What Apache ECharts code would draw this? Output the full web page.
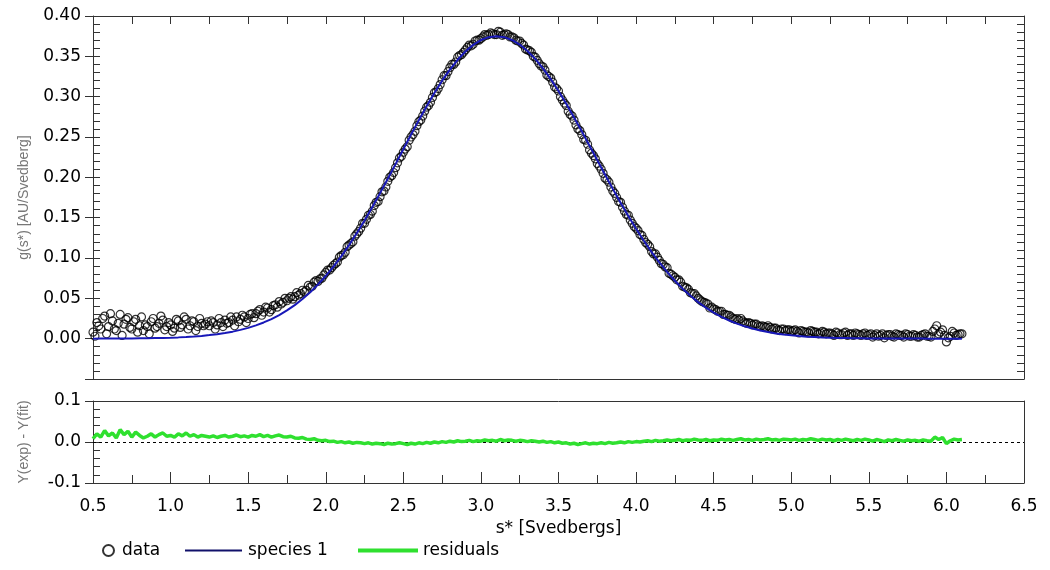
<!DOCTYPE html>
<html>
<head>
<meta charset="utf-8">
<script src="https://cdn.jsdelivr.net/npm/echarts@6/dist/echarts.min.js"></script>
<style>
html,body{margin:0;padding:0;background:#fff;}
#chart{width:1050px;height:570px;}
</style>
</head>
<body>
<div id="chart"></div>
<script>
// sampling grids (s* in Svedbergs)
const dataStart = 0.5, dataStep = 0.025;
const dataStartB = 0.5125;
const fitStart = 0.5, fitStep = 0.05;

// measured g(s*) data points (scan A)
const gData = [
0.008,0.020,0.012,0.028,0.015,0.022,0.010,0.030,0.018,0.026,
0.012,0.024,0.016,0.010,0.015,0.021,0.013,0.019,0.023,0.015,
0.017,0.013,0.022,0.017,0.024,0.016,0.021,0.015,0.019,0.018,
0.016,0.020,0.017,0.020,0.023,0.020,0.023,0.027,0.024,0.027,
0.025,0.031,0.031,0.036,0.033,0.038,0.036,0.042,0.046,0.045,
0.047,0.052,0.052,0.054,0.060,0.060,0.064,0.070,0.071,0.075,
0.082,0.085,0.091,0.095,0.103,0.107,0.116,0.120,0.130,0.137,
0.143,0.153,0.158,0.169,0.176,0.183,0.195,0.202,0.212,0.224,
0.231,0.238,0.250,0.257,0.269,0.276,0.287,0.293,0.305,0.310,
0.321,0.326,0.336,0.340,0.349,0.352,0.358,0.364,0.365,0.370,
0.372,0.377,0.377,0.378,0.377,0.380,0.377,0.377,0.374,0.370,
0.369,0.364,0.358,0.355,0.349,0.341,0.337,0.327,0.323,0.312,
0.307,0.296,0.289,0.278,0.271,0.260,0.253,0.246,0.234,0.227,
0.217,0.210,0.199,0.194,0.183,0.175,0.169,0.158,0.153,0.143,
0.137,0.129,0.123,0.117,0.108,0.105,0.097,0.092,0.088,0.080,
0.076,0.073,0.065,0.063,0.057,0.056,0.050,0.046,0.044,0.038,
0.037,0.034,0.034,0.030,0.029,0.025,0.025,0.025,0.020,0.020,
0.017,0.018,0.015,0.015,0.016,0.012,0.013,0.010,0.012,0.011,
0.009,0.011,0.007,0.009,0.008,0.010,0.008,0.006,0.009,0.006,
0.007,0.004,0.007,0.005,0.008,0.006,0.004,0.006,0.004,0.007,
0.005,0.002,0.006,0.004,0.001,0.005,0.003,0.006,0.004,0.002,
0.005,0.003,0.004,0.002,0.005,0.003,0.002,0.012,0.006,0.011,
-0.004,0.003,0.007,0.005,0.006
];

// measured g(s*) data points (scan B, interleaved)
const gDataB = [
0.003,0.016,0.025,0.006,0.031,0.012,0.019,0.004,0.024,0.014,
0.021,0.008,0.027,0.017,0.006,0.025,0.015,0.028,0.011,0.020,
0.009,0.024,0.014,0.027,0.012,0.022,0.010,0.025,0.016,0.021,
0.022,0.012,0.025,0.015,0.019,0.027,0.016,0.021,0.029,0.020,
0.030,0.026,0.034,0.029,0.039,0.033,0.041,0.039,0.043,0.050,
0.050,0.049,0.057,0.056,0.058,0.066,0.065,0.072,0.074,0.079,
0.085,0.088,0.093,0.101,0.104,0.114,0.118,0.127,0.133,0.143,
0.148,0.154,0.165,0.170,0.182,0.188,0.200,0.206,0.218,0.226,
0.235,0.246,0.253,0.264,0.271,0.282,0.289,0.299,0.306,0.315,
0.326,0.331,0.340,0.343,0.351,0.355,0.361,0.363,0.369,0.370,
0.374,0.376,0.379,0.377,0.381,0.376,0.378,0.374,0.373,0.369,
0.366,0.359,0.357,0.350,0.345,0.338,0.333,0.325,0.318,0.310,
0.300,0.292,0.282,0.276,0.265,0.258,0.247,0.241,0.230,0.223,
0.214,0.205,0.197,0.188,0.180,0.170,0.163,0.154,0.147,0.139,
0.134,0.128,0.119,0.114,0.105,0.101,0.093,0.089,0.081,0.078,
0.073,0.070,0.064,0.061,0.056,0.053,0.048,0.045,0.043,0.039,
0.036,0.034,0.030,0.029,0.027,0.024,0.023,0.022,0.019,0.019,
0.018,0.016,0.016,0.014,0.014,0.013,0.011,0.012,0.010,0.011,
0.010,0.009,0.010,0.008,0.007,0.009,0.008,0.007,0.008,0.007,
0.006,0.008,0.005,0.007,0.004,0.006,0.007,0.005,0.006,0.004,
0.006,0.004,0.003,0.006,0.004,0.005,0.002,0.005,0.004,0.006,
0.003,0.005,0.002,0.004,0.006,0.003,0.009,0.016,0.008,0.004,
0.001,0.009,0.004,0.006
];

// fitted species 1 curve
const species1 = [
0.0000,0.0001,0.0001,0.0001,0.0002,0.0003,0.0004,0.0005,0.0007,0.0009,
0.0012,0.0016,0.0021,0.0027,0.0034,0.0044,0.0055,0.0070,0.0087,0.0109,
0.0134,0.0165,0.0201,0.0243,0.0293,0.0350,0.0416,0.0491,0.0576,0.0671,
0.0777,0.0894,0.1021,0.1160,0.1308,0.1465,0.1631,0.1804,0.1983,0.2164,
0.2348,0.2530,0.2709,0.2882,0.3045,0.3198,0.3336,0.3457,0.3560,0.3642,
0.3702,0.3738,0.3750,0.3738,0.3703,0.3646,0.3567,0.3468,0.3351,0.3217,
0.3070,0.2912,0.2743,0.2570,0.2391,0.2211,0.2033,0.1857,0.1685,0.1520,
0.1362,0.1214,0.1074,0.0945,0.0827,0.0718,0.0620,0.0532,0.0453,0.0384,
0.0324,0.0271,0.0225,0.0186,0.0153,0.0125,0.0101,0.0082,0.0065,0.0052,
0.0041,0.0032,0.0025,0.0020,0.0015,0.0012,0.0009,0.0007,0.0005,0.0004,
0.0003,0.0002,0.0002,0.0001,0.0001,0.0001,0.0001,0.0001,0.0000,0.0000,
0.0000,0.0000,0.0000
];

// residuals Y(exp) - Y(fit)
const residuals = [
0.008,0.020,0.012,0.028,0.015,0.022,0.010,0.030,0.018,0.026,
0.012,0.024,0.016,0.010,0.014,0.020,0.012,0.018,0.022,0.014,
0.016,0.012,0.020,0.015,0.022,0.014,0.018,0.012,0.016,0.014,
0.012,0.015,0.011,0.014,0.016,0.012,0.014,0.017,0.013,0.015,
0.012,0.016,0.014,0.018,0.013,0.016,0.012,0.015,0.017,0.013,
0.012,0.014,0.010,0.009,0.011,0.007,0.006,0.008,0.004,0.003,
0.004,0.001,0.002,-0.001,0.001,-0.002,0.000,-0.003,-0.001,-0.002,
-0.004,-0.002,-0.005,-0.003,-0.004,-0.006,-0.003,-0.005,-0.004,-0.002,
-0.004,-0.006,-0.003,-0.005,-0.002,-0.004,-0.001,-0.003,0.000,-0.002,
0.001,-0.001,0.002,0.000,0.003,0.001,0.002,0.004,0.001,0.003,
0.002,0.005,0.003,0.004,0.002,0.006,0.003,0.005,0.004,0.002,
0.004,0.003,0.001,0.003,0.002,0.000,0.002,-0.001,0.001,-0.002,
0.000,-0.003,-0.002,-0.005,-0.003,-0.006,-0.004,-0.002,-0.005,-0.003,
-0.004,-0.002,-0.004,-0.001,-0.003,-0.002,0.000,-0.002,0.001,-0.001,
0.001,0.000,0.002,0.003,0.001,0.004,0.002,0.003,0.005,0.003,
0.004,0.006,0.003,0.005,0.004,0.007,0.005,0.004,0.006,0.003,
0.005,0.004,0.007,0.005,0.006,0.004,0.006,0.008,0.005,0.006,
0.004,0.007,0.005,0.006,0.008,0.005,0.006,0.004,0.007,0.006,
0.005,0.007,0.004,0.006,0.005,0.008,0.006,0.004,0.007,0.005,
0.006,0.003,0.006,0.004,0.007,0.005,0.003,0.006,0.004,0.007,
0.005,0.002,0.006,0.004,0.001,0.005,0.003,0.006,0.004,0.002,
0.005,0.003,0.004,0.002,0.005,0.003,0.002,0.012,0.006,0.011,
-0.004,0.003,0.007,0.005,0.006
];

function pairs(arr, start, step){
  return arr.map((v,i)=>[+(start + i*step).toFixed(4), v]);
}

const FONT = 'DejaVu Sans';
const NAMEFONT = 'Liberation Sans';
const AX = '#333';
const L = 93, R = 26;
const FIT_COLOR = '#1818b8';
const FIT_LEGEND = '#10106a';
const RES_COLOR = '#2fe02f';

const chart = echarts.init(document.getElementById('chart'), null, {renderer:'canvas'});

const hidden = {show:false};
const legText = {color:'#000', fontFamily:FONT, fontSize:17};
const option = {
  animation:false,
  backgroundColor:'#fff',
  grid:[
    {left:L, right:R, top:16, height:363},
    {left:L, right:R, top:401, height:82}
  ],
  xAxis:[
    {gridIndex:0, type:'value', position:'bottom', min:0.5, max:6.5, interval:0.5,
     axisLine:{show:true, onZero:false, lineStyle:{color:AX}}, axisTick:hidden, axisLabel:hidden, splitLine:hidden},
    {gridIndex:0, type:'value', position:'top', min:0.5, max:6.5, interval:0.25,
     axisLine:{show:true, onZero:false, lineStyle:{color:AX}},
     axisTick:{show:true, inside:true, length:8, lineStyle:{color:AX}}, axisLabel:hidden, splitLine:hidden},
    {gridIndex:1, type:'value', position:'bottom', min:0.5, max:6.5, interval:0.5,
     axisLine:{show:true, onZero:false, lineStyle:{color:AX}},
     axisTick:{show:true, inside:true, length:11, lineStyle:{color:AX}},
     minorTick:{show:true, splitNumber:2, length:8, lineStyle:{color:AX}},
     axisLabel:{show:true, color:'#000', fontFamily:FONT, fontSize:17, margin:15,
       formatter:v=>v.toFixed(1)},
     splitLine:hidden,
     name:'s* [Svedbergs]', nameLocation:'middle', nameGap:37,
     nameTextStyle:{color:'#000', fontFamily:FONT, fontSize:17}},
    {gridIndex:1, type:'value', position:'top', min:0.5, max:6.5,
     axisLine:{show:true, onZero:false, lineStyle:{color:AX}}, axisTick:hidden, axisLabel:hidden, splitLine:hidden}
  ],
  yAxis:[
    {gridIndex:0, type:'value', position:'left', min:-0.05, max:0.4, interval:0.05,
     axisLine:{show:true, onZero:false, lineStyle:{color:AX}},
     axisTick:{show:true, inside:false, length:8, lineStyle:{color:AX}},
     axisLabel:{show:true, color:'#000', fontFamily:FONT, fontSize:17, margin:12,
       formatter:v=> v < -0.001 ? '' : v.toFixed(2)},
     splitLine:hidden,
     name:'g(s*) [AU/Svedberg]', nameLocation:'middle', nameGap:62,
     nameTextStyle:{color:'#777', fontFamily:NAMEFONT, fontSize:14}},
    {gridIndex:0, type:'value', position:'left', min:-0.05, max:0.4, interval:0.01,
     axisLine:hidden, axisTick:{show:true, inside:true, length:7, lineStyle:{color:AX}},
     axisLabel:hidden, splitLine:hidden},
    {gridIndex:0, type:'value', position:'right', min:-0.05, max:0.4, interval:0.01,
     axisLine:{show:true, onZero:false, lineStyle:{color:AX}},
     axisTick:{show:true, inside:true, length:7, lineStyle:{color:AX}},
     axisLabel:hidden, splitLine:hidden},
    {gridIndex:1, type:'value', position:'left', min:-0.1, max:0.1, interval:0.1,
     axisLine:{show:true, onZero:false, lineStyle:{color:AX}},
     axisTick:{show:true, inside:false, length:8, lineStyle:{color:AX}},
     axisLabel:{show:true, color:'#000', fontFamily:FONT, fontSize:17, margin:12,
       formatter:v=>v.toFixed(1)},
     splitLine:hidden,
     name:'Y(exp) - Y(fit)', nameLocation:'middle', nameGap:62,
     nameTextStyle:{color:'#777', fontFamily:NAMEFONT, fontSize:14}},
    {gridIndex:1, type:'value', position:'left', min:-0.1, max:0.1, interval:0.02,
     axisLine:hidden, axisTick:{show:true, inside:true, length:7, lineStyle:{color:AX}},
     axisLabel:hidden, splitLine:hidden},
    {gridIndex:1, type:'value', position:'right', min:-0.1, max:0.1,
     axisLine:{show:true, onZero:false, lineStyle:{color:AX}}, axisTick:hidden, axisLabel:hidden, splitLine:hidden}
  ],
  legend:[
    {left:97, top:537, itemWidth:11, itemHeight:11, data:[{name:'data', icon:'circle'}],
     textStyle:Object.assign({padding:[0,0,0,3]}, legText)},
    {left:180, top:537, itemWidth:57, itemHeight:2,
     data:[{name:'species 1', icon:'rect', itemStyle:{color:FIT_LEGEND}}],
     textStyle:Object.assign({padding:[0,0,0,1]}, legText)},
    {left:353, top:537, itemWidth:60, itemHeight:4,
     data:[{name:'residuals', icon:'rect', itemStyle:{color:RES_COLOR}}],
     textStyle:Object.assign({padding:[0,0,0,0]}, legText)}
  ],
  series:[
    {name:'data', type:'scatter', xAxisIndex:0, yAxisIndex:0,
     data:pairs(gData, dataStart, dataStep), symbol:'circle', symbolSize:8,
     itemStyle:{color:'rgba(255,255,255,0)', borderColor:'#000', borderWidth:1.2}, z:2},
    {name:'data', type:'scatter', xAxisIndex:0, yAxisIndex:0,
     data:pairs(gDataB, dataStartB, dataStep), symbol:'circle', symbolSize:8,
     itemStyle:{color:'rgba(255,255,255,0)', borderColor:'#000', borderWidth:1.2}, z:2},
    {name:'species 1', type:'line', xAxisIndex:0, yAxisIndex:0,
     data:pairs(species1, fitStart, fitStep), symbol:'none', smooth:false,
     lineStyle:{color:FIT_COLOR, width:2}, itemStyle:{color:FIT_LEGEND}, z:3},
    {name:'residuals', type:'line', xAxisIndex:2, yAxisIndex:3,
     data:pairs(residuals, dataStart, dataStep), symbol:'none',
     lineStyle:{color:RES_COLOR, width:3.5}, itemStyle:{color:RES_COLOR}, z:3,
     markLine:{silent:true, symbol:'none', label:{show:false},
       lineStyle:{color:'#000', type:[3,3], width:1}, data:[{yAxis:0}], z:2}}
  ]
};
chart.setOption(option);
</script>
</body>
</html>
